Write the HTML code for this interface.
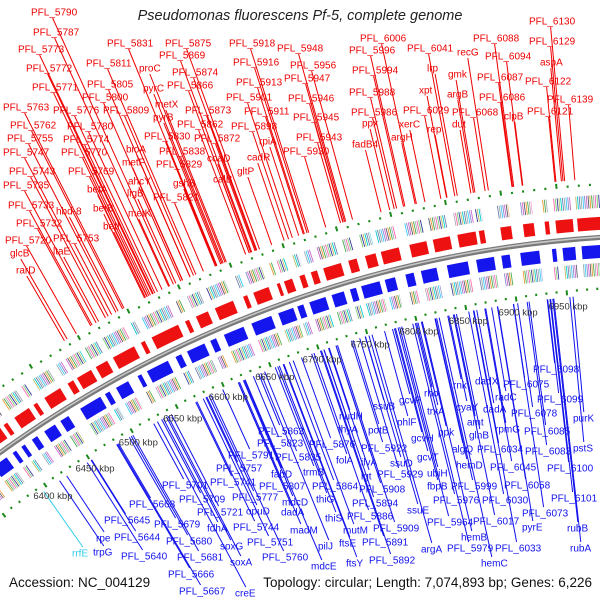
<!DOCTYPE html>
<html><head><meta charset="utf-8"><style>
html,body{margin:0;padding:0;background:#fff}
svg{display:block}
text{font-family:"Liberation Sans",sans-serif}
</style></head><body>
<svg id="map" width="600" height="600" viewBox="0 0 600 600">
<rect width="600" height="600" fill="#fff"/>
<g id="rings"></g>
<g id="lines"></g>
<g id="labels"></g>
<g id="ticks"></g>
<text x="300" y="20" text-anchor="middle" font-size="14.5" font-style="italic" fill="#222">Pseudomonas fluorescens Pf-5, complete genome</text>
<text x="9" y="587" font-size="13.5" fill="#111">Accession: NC_004129</text>
<text x="592" y="587" text-anchor="end" font-size="13.5" fill="#111">Topology: circular; Length: 7,074,893 bp; Genes: 6,226</text>
</svg>
<script>
const tickKbp=[6400,6450,6500,6550,6600,6650,6700,6750,6800,6850,6900,6950];
const fwdGenes=[[6388,6396],[6400,6404],[6412,6428],[6433,6437],[6445,6462],[6470,6476],[6480,6495],[6500,6512],[6518,6540],[6547,6551],[6558,6585],[6592,6596],[6603,6615],[6622,6640],[6650,6654],[6660,6675],[6683,6686],[6690,6698],[6705,6710],[6716,6722],[6728,6745],[6752,6760],[6768,6778],[6783,6800],[6810,6826],[6832,6848],[6855,6872],[6875,6880],[6895,6905],[6916,6926],[6936,6940],[6946,6962],[6966,6995]];
const revGenes=[[6340,6352],[6356,6362],[6370,6385],[6392,6396],[6402,6406],[6414,6420],[6428,6440],[6446,6455],[6468,6490],[6495,6500],[6507,6520],[6530,6534],[6540,6562],[6570,6576],[6582,6600],[6606,6612],[6620,6640],[6648,6668],[6675,6690],[6694,6700],[6706,6722],[6728,6740],[6746,6752],[6757,6775],[6780,6790],[6800,6808],[6815,6830],[6840,6860],[6868,6885],[6892,6900],[6910,6928],[6940,6944],[6950,6962],[6968,6995]];
const redNames=["PFL_5790","PFL_5787","PFL_5773","PFL_5772","PFL_5771","PFL_5763","PFL_5762","PFL_5755","PFL_5747","PFL_5743","PFL_5735","PFL_5733","PFL_5732","PFL_5720","glcB","rarD","PFL_5831","PFL_5811","PFL_5805","PFL_5800","PFL_5776","PFL_5809","PFL_5780","PFL_5774","PFL_5770","PFL_5769","betA","betB","betI","hbd-8","PFL_5753","ltaE","proC","pyrC","metX","pyrB","bioA","metF","ahcY","ligB","metK","PFL_5830","PFL_5838","PFL_5829","gshB","PFL_5821","PFL_5875","PFL_5869","PFL_5874","PFL_5866","PFL_5873","PFL_5862","PFL_5872","coaD","calB","PFL_5918","PFL_5916","PFL_5913","PFL_5901","PFL_5911","PFL_5898","rpiA","cadR","gltP","PFL_5948","PFL_5956","PFL_5947","PFL_5946","PFL_5945","PFL_5943","PFL_5930","PFL_6006","PFL_5996","PFL_5994","PFL_5988","PFL_5986","ppx","fadB4","argH","xerC","PFL_6041","lrp","xpt","PFL_6029","rep","recG","gmk","argB","PFL_6068","dut","PFL_6088","PFL_6094","PFL_6087","PFL_6086","clpB","PFL_6130","PFL_6129","aspA","PFL_6122","PFL_6139","PFL_6121"];
const redPos=[[31,12],[33,32],[18,49],[26,68],[32,87],[3,107],[10,125],[7,138],[3,152],[9,171],[3,185],[8,205],[16,223],[5,240],[10,253],[16,270],[107,43],[86,63],[87,84],[82,97],[53,110],[103,110],[67,126],[63,139],[61,152],[68,171],[87,189],[93,208],[103,226],[56,211],[53,238],[53,251],[139,68],[143,88],[155,104],[153,117],[126,149],[122,162],[128,181],[127,193],[128,213],[144,136],[159,151],[156,164],[173,183],[153,197],[165,43],[159,55],[172,72],[167,85],[185,110],[177,124],[194,138],[207,158],[213,179],[229,43],[233,62],[236,82],[226,97],[244,111],[231,126],[259,141],[247,157],[237,171],[277,48],[290,65],[284,78],[288,98],[293,117],[296,137],[283,151],[360,38],[349,50],[352,70],[349,92],[351,112],[362,123],[352,144],[391,137],[399,124],[407,48],[427,68],[419,90],[403,110],[427,129],[457,52],[448,74],[447,94],[452,112],[452,124],[473,38],[485,56],[477,77],[479,97],[504,116],[529,21],[529,41],[540,62],[525,81],[547,99],[527,111]];
const blueNames=["PFL_6098","PFL_6075","dadX","rnk","rho","radC","PFL_6099","cyaY","trxA","dadA","PFL_6078","purK","gcvP","ssuB","nudH","amt","phlF","rpmG","PFL_6085","potB","thyA","ppk","PFL_5863","glnB","gcvH","PFL_5876","PFL_5922","algQ","PFL_6034","PFL_6083","pstS","gcvT","folA","ilvA","ssuD","hemD","PFL_6045","PFL_6100","trmB","lgt","PFL_5929","ubiH","fbpB","PFL_5999","PFL_6058","PFL_5864","PFL_5908","thiG","PFL_5976","PFL_6030","PFL_6101","PFL_5894","ssuE","PFL_6073","thiS","PFL_5886","PFL_5964","PFL_6017","pyrE","mutM","PFL_5909","rubB","hemB","pilJ","ftsE","PFL_5891","argA","PFL_5979","PFL_6033","rubA","madM","mdcE","ftsY","PFL_5892","hemC","PFL_5823","PFL_5791","PFL_5835","PFL_5757","fabD","PFL_5701","PFL_5741","PFL_5807","PFL_5709","PFL_5777","mdcD","PFL_5668","PFL_5721","opuD","dadA","PFL_5645","PFL_5679","fdhA","PFL_5744","rpe","PFL_5644","PFL_5680","soxG","PFL_5751","trpG","PFL_5640","PFL_5681","soxA","PFL_5760","PFL_5666","PFL_5667","creE","rrfE"];
const bluePos=[[533,369],[503,384],[475,381],[453,385],[424,393],[495,397],[537,399],[456,407],[427,411],[483,409],[511,413],[573,418],[399,400],[373,406],[339,416],[467,422],[397,422],[495,429],[524,431],[368,430],[338,429],[438,432],[258,431],[469,435],[411,438],[309,444],[361,448],[452,449],[477,449],[525,451],[573,448],[417,457],[336,460],[361,462],[390,463],[456,465],[490,467],[547,468],[303,472],[361,476],[377,474],[427,473],[427,486],[451,486],[504,485],[312,486],[359,489],[316,499],[433,500],[482,500],[551,498],[352,503],[407,510],[522,513],[325,518],[347,516],[427,522],[473,521],[522,527],[343,530],[373,528],[567,528],[461,537],[318,546],[339,543],[362,542],[421,549],[447,548],[495,548],[570,548],[290,530],[311,566],[346,563],[369,560],[481,563],[257,443],[228,455],[275,457],[216,468],[271,474],[162,485],[210,482],[259,486],[179,499],[232,497],[282,502],[129,504],[197,512],[246,511],[281,512],[104,520],[154,524],[207,528],[233,527],[96,538],[114,537],[166,541],[220,546],[247,542],[93,552],[121,556],[177,557],[230,562],[262,557],[168,574],[179,591],[235,593],[72,553]];

const NS="http://www.w3.org/2000/svg";
const CX=675, CY=1390;
function angOf(k){return -(5.63+(6950-k)*0.0531)*Math.PI/180;}
function pt(k,r){const a=angOf(k);return [CX+r*Math.sin(a),CY-r*Math.cos(a)];}
function arc(k1,k2,r){const p=pt(k1,r),q=pt(k2,r);return `M${p[0].toFixed(2)},${p[1].toFixed(2)} A${r},${r} 0 0 1 ${q[0].toFixed(2)},${q[1].toFixed(2)}`;}
function mk(tag,attrs,parent){const e=document.createElementNS(NS,tag);for(const k in attrs)e.setAttribute(k,attrs[k]);parent.appendChild(e);return e;}
const rings=document.getElementById('rings'),lines=document.getElementById('lines'),labels=document.getElementById('labels'),ticks=document.getElementById('ticks');
const palette=["#6a7fb0","#9aa","#3cf","#88c","#c6c","#556","#e93","#4a4","#aab","#f6a","#7c7","#339","#bb6","#0cc"];

let bb=mk('path',{d:arc(6300,7000,1155),fill:'none',stroke:'#7a7a7a','stroke-width':5},rings);


let bb2=mk('path',{d:arc(6300,7000,1155.5),fill:'none',stroke:'#c8c8c8','stroke-width':1.5},rings);



for(let k=6330;k<=7000;k+=10){
  const big=(k%50===0);
  [[1207,1],[1105,-1]].forEach(([r,s])=>{
    const len=big?5:2.2;
    const p=pt(k,r),q=pt(k,r+len*s);
    const d=mk('line',{x1:p[0],y1:p[1],x2:q[0],y2:q[1],stroke:'#1a8a1a','stroke-width':2},rings);
    
    
  });
}

function band(list,rArrow,rCog,color,name){
  list.forEach(([a,b],i)=>{
    const g=mk('path',{d:arc(a,b,rArrow),fill:'none',stroke:color,'stroke-width':13},rings);
    
    
    let j=i*3;
    for(let k=a;k<b;k+=1.6){
      const c=mk('path',{d:arc(k,Math.min(k+0.8,b),rCog),fill:'none',stroke:palette[(j++)%palette.length],'stroke-width':13},rings);
      
      
    }
  });
}
band(fwdGenes,1169,1191,'#ee1111','forward');
band(revGenes,1141,1123,'#1515ee','reverse');

tickKbp.forEach(k=>{
  const p=pt(k,1089);
  const t=mk('text',{x:p[0],y:p[1]+3,'text-anchor':'middle','font-size':9.5,fill:'#333'},ticks);
  t.textContent=k+' kbp';
  
  
});

function addLabel(name,pos,color,outer){
  const t=mk('text',{x:pos[0],y:pos[1]+3.5,'font-size':10,fill:color},labels);
  t.textContent=name;
  
  
  const w=name.length*5.4;
  const ax=pos[0]+w/2, ay=outer?pos[1]+6:pos[1]-6;
  const a=Math.atan2(ax-CX,CY-ay);
  const r=outer?1214:1098;
  const ex=CX+r*Math.sin(a), ey=CY-r*Math.cos(a);
  const l=mk('line',{x1:ax,y1:ay,x2:ex,y2:ey,stroke:color,'stroke-width':1},lines);
  
  
}
redNames.forEach((n,i)=>addLabel(n,redPos[i],'#ee0000',true));
blueNames.forEach((n,i)=>addLabel(n,bluePos[i],n==='rrfE'?'#33ccee':'#1111ee',false));
</script>
</body></html>
